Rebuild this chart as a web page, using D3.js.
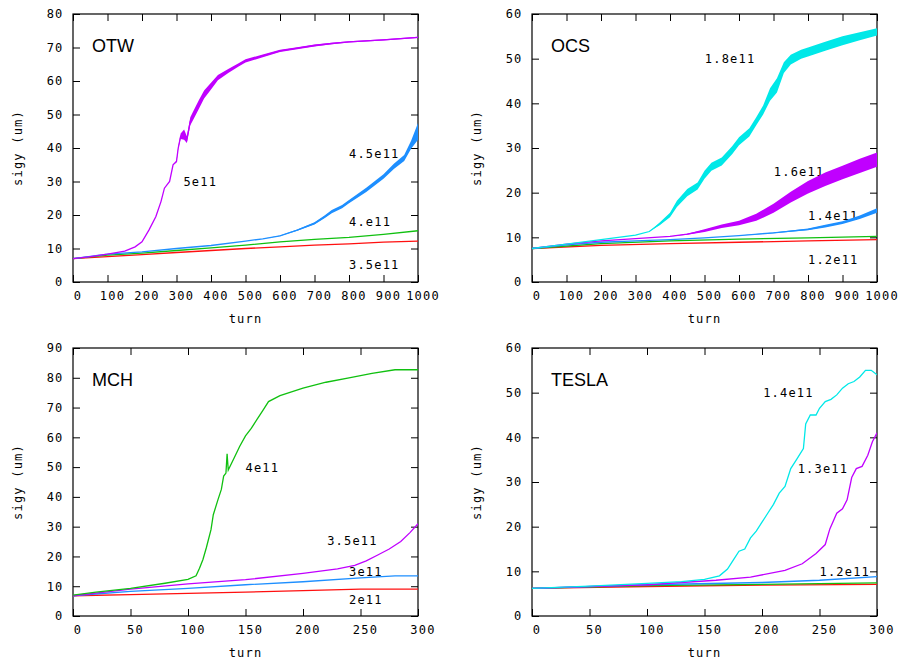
<!DOCTYPE html>
<html>
<head>
<meta charset="utf-8">
<script src="https://cdn.jsdelivr.net/npm/d3@7"></script>
<style>
  body { margin: 0; background: #fff; }
  .tick text, .lbl { font-family: "DejaVu Sans Mono", monospace; font-size: 12px; letter-spacing: 1.2px; fill: #000; }
  .title { font-family: "Liberation Sans", Arial, sans-serif; font-size: 18px; fill: #000; }
</style>
</head>
<body>
<div id="chart"></div>
<script>
// [turn, sigy, band half-width]

// OTW
var otw35 = [[0,7,0],[100,7.6,0],[200,8.2,0],[300,8.8,0],[400,9.4,0],[500,10,0],[600,10.5,0],[700,11,0],[800,11.4,0],[900,11.9,0],[1000,12.2,0]];
var otw40 = [[0,7,0],[100,8,0],[200,8.6,0],[300,9.4,0],[400,10.2,0],[500,11,0],[600,12,0],[700,12.7,0],[800,13.3,0],[900,14.2,0],[1000,15.3,0]];
var otw45 = [[0,7,0],[100,8.3,0],[200,9,0],[300,10,0],[400,10.9,0],[500,12.2,0],[550,12.9,0],[600,13.8,0.1],[650,15.5,0.2],[700,17.5,0.3],[730,19.5,0.4],[750,21,0.5],[780,22.5,0.5],[800,24,0.5],[850,27.5,0.6],[900,31.5,0.7],[930,34.5,0.8],[960,37,0.9],[980,41,1.2],[1000,45,2.5]];
var otw50 = [[0,7,0],[50,7.6,0],[100,8.3,0],[150,9.2,0],[180,10.5,0],[200,12,0],[220,15.5,0],[240,19.5,0],[255,24,0],[265,28,0],[280,30,0],[290,35,0],[300,36,0.3],[305,40,0.3],[312,43.5,0.8],[322,44,1.5],[330,42.5,1],[340,48,1.2],[350,50,1.3],[365,53,1.3],[380,56,1.2],[400,58.5,1],[420,61,0.8],[450,63,0.6],[480,64.8,0.5],[500,66,0.5],[550,67.5,0.4],[600,69,0.35],[650,69.8,0.3],[700,70.6,0.3],[750,71.2,0.25],[800,71.7,0.2],[900,72.3,0.2],[1000,73,0.2]];

// OCS
var ocs12 = [[0,7.5,0],[200,8.2,0],[400,8.6,0],[600,8.9,0],[800,9.2,0],[1000,9.5,0]];
var ocs13 = [[0,7.5,0],[200,8.6,0],[400,9.2,0],[600,9.6,0],[800,9.9,0],[1000,10.2,0]];
var ocs14 = [[0,7.5,0],[100,8.3,0],[200,8.9,0],[300,9.2,0],[400,9.5,0],[500,9.9,0],[600,10.4,0],[700,11,0.1],[800,11.8,0.2],[850,12.5,0.3],[900,13.3,0.3],[950,14.5,0.4],[1000,16,0.5]];
var ocs16 = [[0,7.5,0],[100,8.5,0],[200,9.2,0],[300,9.7,0],[400,10.2,0],[450,10.7,0.1],[500,11.5,0.3],[550,12.5,0.4],[600,13.2,0.5],[650,14.5,0.8],[700,16.5,1],[750,19,1.2],[800,21.2,1.4],[850,23,1.5],[900,24.5,1.5],[950,26,1.6],[1000,27.4,1.6]];
var ocs18 = [[0,7.5,0],[100,8.5,0],[200,9.5,0],[300,10.5,0],[340,11.3,0],[370,13,0.3],[400,15,0.5],[420,17.5,0.7],[450,20,0.8],[480,21.5,0.8],[500,24,0.9],[520,25.8,0.9],[550,27,0.9],[580,29.5,0.9],[600,31.5,0.9],[630,33.5,0.9],[650,36,0.9],[670,38.5,1],[690,42,1.4],[710,44,1.6],[730,48,1.2],[750,49.8,1.1],[780,51,1],[800,51.5,1],[850,52.8,1],[900,54,1],[950,55,0.9],[1000,56,0.8]];

// MCH
var mch20 = [[0,6.8,0],[50,7.2,0],[100,7.6,0],[150,8,0],[200,8.5,0],[250,9,0],[300,9,0]];
var mch30 = [[0,6.8,0],[50,8.3,0],[100,9.3,0],[150,10.5,0],[200,11.5,0],[250,12.8,0],[280,13.5,0],[300,13.5,0]];
var mch35 = [[0,6.8,0],[50,9,0],[100,10.8,0],[150,12.2,0],[200,14.3,0],[230,15.8,0],[245,17,0],[255,18.5,0],[265,20.5,0],[275,22.5,0],[285,25,0],[293,28,0],[300,31,0]];
var mch40 = [[0,7,0],[20,8,0],[50,9.3,0],[80,11,0],[100,12.3,0],[107,13.5,0],[110,16,0],[113,19,0],[116,23,0],[120,29,0],[122,34,0],[126,39,0],[129,42.5,0],[131,47,0],[133,48,0],[134,54.5,0],[135,49,0],[140,53,0],[145,57,0],[150,60.5,0],[155,63,0],[160,66,0],[165,69,0],[170,72,0],[180,74,0],[190,75.3,0],[200,76.5,0],[220,78.5,0],[240,80,0],[260,81.5,0],[280,82.7,0],[300,82.7,0]];

// TESLA
var tes11r = [[0,6.2,0],[100,6.6,0],[200,6.9,0],[300,7.1,0]];
var tes11g = [[0,6.2,0],[100,6.8,0],[200,7.1,0],[300,7.4,0]];
var tes12 = [[0,6.2,0],[100,7,0],[200,7.5,0],[250,8,0],[300,8.8,0]];
var tes13 = [[0,6.2,0],[100,7,0],[160,8,0],[190,8.7,0],[220,10.2,0],[235,11.7,0],[247,14,0],[255,16,0],[259,19.5,0],[265,23,0],[270,24,0],[274,26,0],[278,31,0],[282,33,0],[287,33.5,0],[292,36,0],[296,39,0],[300,41,0]];
var tes14 = [[0,6.2,0],[50,6.7,0],[100,7.3,0],[130,7.7,0],[150,8.2,0],[163,9,0],[170,10.5,0],[175,12.5,0],[180,14.5,0],[185,15,0],[190,17.5,0],[195,19,0],[200,21,0],[205,23,0],[210,25,0],[215,27.5,0],[220,29,0],[225,33,0],[230,35,0],[236,37.5,0],[238,43,0],[242,45,0],[247,45,0],[250,46.5,0],[255,48,0],[260,48.5,0],[265,49.5,0],[270,51,0],[275,52,0],[280,52.5,0],[285,53.5,0],[290,55,0],[295,55,0],[300,54,0]];

var panelNames = ["OTW", "OCS", "MCH", "TESLA"];
var xMaxes = [1000, 1000, 300, 300];
var yMaxes = [80, 60, 90, 60];
var xTickSteps = [100, 100, 50, 50];

var colors = { red: "#ff1010", green: "#10c010", blue: "#1e8fff", purple: "#c000ff", cyan: "#00e8e8" };

var panelSeries = [
  [{ data: otw35, c: "red" }, { data: otw40, c: "green" }, { data: otw45, c: "blue" }, { data: otw50, c: "purple" }],
  [{ data: ocs12, c: "red" }, { data: ocs13, c: "green" }, { data: ocs14, c: "blue" }, { data: ocs16, c: "purple" }, { data: ocs18, c: "cyan" }],
  [{ data: mch20, c: "red" }, { data: mch30, c: "blue" }, { data: mch35, c: "purple" }, { data: mch40, c: "green" }],
  [{ data: tes11r, c: "red" }, { data: tes11g, c: "green" }, { data: tes12, c: "blue" }, { data: tes13, c: "purple" }, { data: tes14, c: "cyan" }]
];

// series labels: text, turn, sigy
var panelLabels = [
  [["5e11", 320, 30], ["4.5e11", 800, 38.2], ["4.e11", 800, 17.9], ["3.5e11", 800, 5.1]],
  [["1.8e11", 501, 49.9], ["1.6e11", 701, 24.6], ["1.4e11", 800, 14.8], ["1.2e11", 800, 4.9]],
  [["4e11", 150, 49.7], ["3.5e11", 221, 25.2], ["3e11", 240, 14.8], ["2e11", 240, 5.4]],
  [["1.4e11", 201, 49.9], ["1.3e11", 231, 32.9], ["1.2e11", 250, 9.9]]
];

var margin = { left: 73, top: 14 },
    width = 345,
    height = 268,
    colGap = 459,
    rowGap = 334;

var svg = d3.select("#chart")
  .append("svg")
  .attr("width", 901)
  .attr("height", 659);

panelNames.forEach(function(name, i) {
  var col = i % 2, row = Math.floor(i / 2);
  var g = svg.append("g")
    .attr("transform", "translate(" + (margin.left + col * colGap) + "," + (margin.top + row * rowGap) + ")");

  var x = d3.scaleLinear().domain([0, xMaxes[i]]).range([0, width]);
  var y = d3.scaleLinear().domain([0, yMaxes[i]]).range([height, 0]);
  var xt = d3.range(0, xMaxes[i] + 1, xTickSteps[i]);
  var yt = d3.range(0, yMaxes[i] + 1, 10);

  var bx = g.append("g").attr("transform", "translate(0," + height + ")")
    .call(d3.axisBottom(x).tickValues(xt).tickSize(-7).tickPadding(9.5).tickFormat(d3.format("d")));
  bx.selectAll("text").attr("dx", 4.5);
  g.append("g").call(d3.axisTop(x).tickValues(xt).tickSize(-7).tickFormat(""));
  g.append("g")
    .call(d3.axisLeft(y).tickValues(yt).tickSize(-7).tickPadding(9.5).tickFormat(d3.format("d")));
  g.append("g").attr("transform", "translate(" + width + ",0)")
    .call(d3.axisRight(y).tickValues(yt).tickSize(-7).tickFormat(""));
  g.selectAll(".domain").remove();
  g.selectAll(".tick line").attr("stroke", "#000");

  g.append("rect")
    .attr("width", width).attr("height", height)
    .attr("fill", "none").attr("stroke", "#000").attr("stroke-width", 1.2);

  g.append("text").attr("class", "lbl")
    .attr("x", width / 2).attr("y", height + 41)
    .attr("text-anchor", "middle")
    .text("turn");
  g.append("text").attr("class", "lbl")
    .attr("transform", "translate(-55," + (height / 2) + ") rotate(-90)")
    .attr("text-anchor", "middle")
    .attr("dominant-baseline", "central")
    .text("sigy (um)");

  g.append("text").attr("class", "title")
    .attr("x", 19).attr("y", 38)
    .text(name);

  g.selectAll(".series-label")
    .data(panelLabels[i])
    .enter().append("text")
    .attr("class", "lbl")
    .attr("x", function(d) { return x(d[1]); })
    .attr("y", function(d) { return y(d[2]); })
    .attr("dominant-baseline", "central")
    .text(function(d) { return d[0]; });

  var clipId = "clip" + i;
  g.append("clipPath").attr("id", clipId)
    .append("rect").attr("width", width).attr("height", height);
  var plot = g.append("g").attr("clip-path", "url(#" + clipId + ")");

  var band = d3.area()
    .x(function(d) { return x(d[0]); })
    .y0(function(d) { return y(d[1] - d[2]); })
    .y1(function(d) { return y(d[1] + d[2]); });
  var line = d3.line()
    .x(function(d) { return x(d[0]); })
    .y(function(d) { return y(d[1]); });

  panelSeries[i].forEach(function(s) {
    plot.append("path")
      .datum(s.data)
      .attr("d", band)
      .attr("fill", colors[s.c]);
    plot.append("path")
      .datum(s.data)
      .attr("d", line)
      .attr("fill", "none")
      .attr("stroke", colors[s.c])
      .attr("stroke-width", 1.3);
  });
});
</script>
</body>
</html>
